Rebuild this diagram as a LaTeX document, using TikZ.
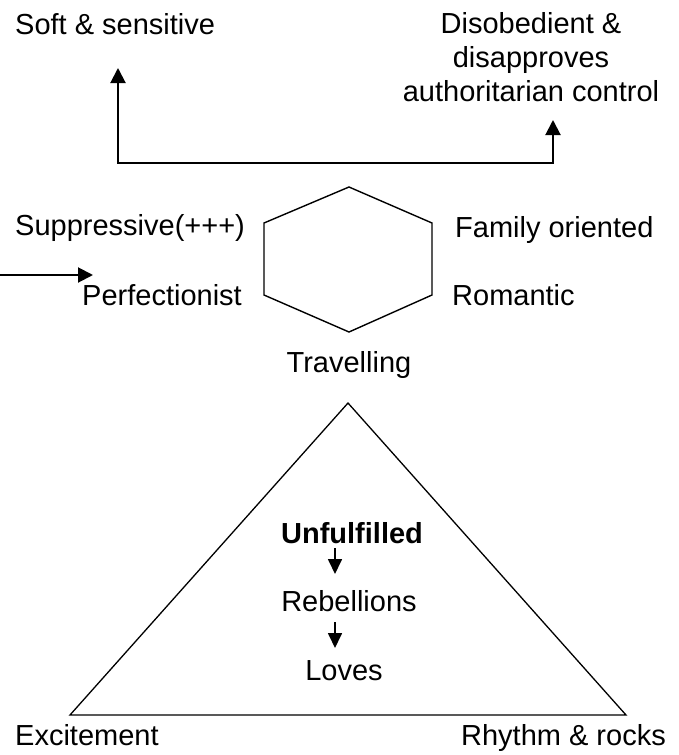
\documentclass[tikz,border=0pt]{standalone}
\usepackage{fontspec}
\setmainfont{Liberation Sans}
\usetikzlibrary{arrows.meta}
\begin{document}
\begin{tikzpicture}[x=1pt,y=-1pt,
  lbl/.style={inner sep=0pt,font=\fontsize{29}{34}\selectfont},
  conn/.style={line width=2pt,-{Triangle[length=15pt,width=15pt]}},
  small/.style={line width=1.7pt,-{Triangle[length=15pt,width=14pt]}},
  shapeline/.style={line width=1.4pt,line join=miter}]
\useasboundingbox (0,0) rectangle (679,755);
% top labels
\node[lbl,anchor=base west] (soft) at (15,34) {Soft \& sensitive};
\node[lbl,anchor=base] (dis1) at (531,33) {Disobedient \&};
\node[lbl,anchor=base] (dis2) at (531,67) {disapproves};
\node[lbl,anchor=base] (dis3) at (531,101) {authoritarian control};
% forked connector
\coordinate (ltip) at (118,68);
\coordinate (bl) at (118,163);
\coordinate (br) at (553,163);
\coordinate (rtip) at (553,120);
\draw[line width=2pt,{Triangle[length=15pt,width=15pt]}-{Triangle[length=15pt,width=15pt]}]
  (ltip) -- (bl) -- (br) -- (rtip);
% hexagon
\coordinate (h1) at (349,187);
\coordinate (h2) at (432,223);
\coordinate (h3) at (432,295);
\coordinate (h4) at (349,332);
\coordinate (h5) at (264,295);
\coordinate (h6) at (264,223);
\draw[shapeline] (h1) -- (h2) -- (h3) -- (h4) -- (h5) -- (h6) -- cycle;
\node[lbl,anchor=base west] (supp) at (15,235) {Suppressive(+++)};
\node[lbl,anchor=base west] (perf) at (82,305) {Perfectionist};
\node[lbl,anchor=base west] (fam) at (455,237) {Family oriented};
\node[lbl,anchor=base west] (rom) at (452,305) {Romantic};
\node[lbl,anchor=base] (trav) at (349,372) {Travelling};
% incoming arrow
\coordinate (inL) at (0,275);
\coordinate (inR) at (93,275);
\draw[conn] (inL) -- (inR);
% triangle
\coordinate (t1) at (348,403);
\coordinate (t2) at (626,715);
\coordinate (t3) at (70,715);
\draw[shapeline,line width=1.3pt] (t1) -- (t2) -- (t3) -- cycle;
\node[lbl,anchor=base,font=\fontsize{29}{34}\selectfont\bfseries] (unf) at (352,543) {Unfulfilled};
\node[lbl,anchor=base] (reb) at (349,611) {Rebellions};
\node[lbl,anchor=base] (lov) at (344,680) {Loves};
\coordinate (a1s) at (335,548);
\coordinate (a1e) at (335,574);
\coordinate (a2s) at (335,622);
\coordinate (a2e) at (335,648);
\draw[small] (a1s) -- (a1e);
\draw[small] (a2s) -- (a2e);
\node[lbl,anchor=base west] (exc) at (15,745) {Excitement};
\node[lbl,anchor=base east] (rhy) at (666,745) {Rhythm \& rocks};
\end{tikzpicture}
\end{document}
